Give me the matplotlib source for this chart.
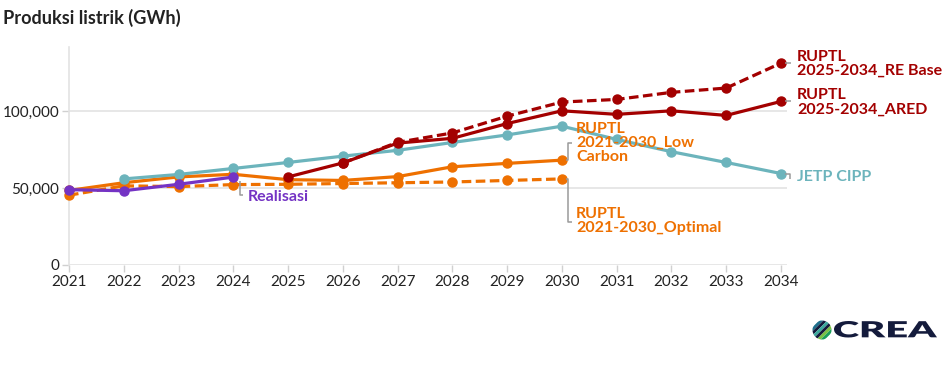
import matplotlib
matplotlib.use("Agg")
import matplotlib.pyplot as plt
from matplotlib.patches import Circle, Polygon, PathPatch
from matplotlib.lines import Line2D
from matplotlib.textpath import TextPath
from matplotlib.font_manager import FontProperties
from matplotlib.transforms import Affine2D

# ---------------- data ----------------
realisasi_years = [2021, 2022, 2023, 2024]
realisasi = [49000, 48300, 52500, 57200]

jetp_years = list(range(2022, 2035))
jetp = [56000, 58900, 62800, 66700, 70800, 74600, 79700, 84600, 90300,
        81700, 73700, 66700, 59500]

ruptl21_years = list(range(2021, 2031))
low_carbon = [48500, 53500, 57300, 59000, 55500, 55000, 57500, 63900, 66100, 68200]
optimal = [45400, 51500, 51000, 52300, 52500, 53000, 53500, 54000, 55000, 56000]

ared_years = list(range(2025, 2035))
ared = [57300, 66400, 79300, 82400, 92000, 100300, 98000, 100300, 97300, 106400]

re_base_years = list(range(2026, 2035))
re_base = [66400, 79800, 85900, 96800, 106000, 107700, 112300, 115100, 131300]

x_ticks = list(range(2021, 2035))
y_ticks = [0, 50000, 100000]
y_tick_labels = ["0", "50,000", "100,000"]

title = "Produksi listrik (GWh)"

# ---------------- style ----------------
C_RED = "#A30000"
C_ORANGE = "#EE7000"
C_TEAL = "#6CB4BC"
C_PURPLE = "#7433C4"
C_GRID = "#E3E3E3"
C_LEAD = "#9A9A9A"
FONT = ["Lato", "DejaVu Sans"]
plt.rcParams["font.family"] = FONT

W, H = 951, 383
fig = plt.figure(figsize=(W / 100, H / 100), dpi=100)
fig.patch.set_facecolor("white")

ax = fig.add_axes([69 / W, 1 - 265 / H, (787 - 69) / W, (265 - 46.7) / H])
ax.set_xlim(2021, 2034.11)
ax.set_ylim(0, 142000)

for s in ["top", "right", "bottom"]:
    ax.spines[s].set_visible(False)
ax.spines["left"].set_color(C_GRID)
ax.spines["left"].set_linewidth(1.2)

ax.set_yticks(y_ticks)
ax.set_yticklabels(y_tick_labels)
ax.set_xticks(x_ticks)
ax.set_xticklabels([str(y) for y in x_ticks])
ax.yaxis.grid(True, color=C_GRID, linewidth=1.2)
ax.set_axisbelow(True)
ax.tick_params(axis="both", length=5, width=1, color="#D0D0D0",
               labelsize=11, labelcolor="#222222")
ax.tick_params(axis="x", pad=2)
ax.tick_params(axis="y", pad=2)

LW = 2.3
MS = 6.5
dash = (3, 1.4)

ax.plot(ruptl21_years, optimal, color=C_ORANGE, lw=LW, marker="o", ms=MS,
        dashes=dash, clip_on=False, zorder=3)
ax.plot(ruptl21_years, low_carbon, color=C_ORANGE, lw=LW, marker="o", ms=MS,
        clip_on=False, zorder=4)
ax.plot(jetp_years, jetp, color=C_TEAL, lw=LW, marker="o", ms=MS,
        clip_on=False, zorder=5)
ax.plot(ared_years, ared, color=C_RED, lw=LW, marker="o", ms=MS,
        clip_on=False, zorder=6)
ax.plot(re_base_years, re_base, color=C_RED, lw=LW, marker="o", ms=MS,
        dashes=dash, clip_on=False, zorder=6)
ax.plot(realisasi_years, realisasi, color=C_PURPLE, lw=LW, marker="o", ms=MS,
        clip_on=False, zorder=7)

# ---------------- annotations (pixel offsets from data points) ----------------
fig.canvas.draw()
inv = fig.transFigure.inverted()


def px(xd, yd):
    return ax.transData.transform((xd, yd))


def fig_line(points):
    pts = [inv.transform(p) for p in points]
    fig.add_artist(Line2D([p[0] for p in pts], [p[1] for p in pts],
                          color=C_LEAD, lw=1.1, solid_capstyle="butt"))


def fig_label(xp, yp, text, color, size=11.5):
    xf, yf = inv.transform((xp, yp))
    fig.text(xf, yf, text, color=color, fontsize=size, fontweight="bold",
             ha="left", va="center", linespacing=1.0)


# Realisasi
px0 = px(realisasi_years[-1], realisasi[-1])
fig_line([(px0[0] + 7, px0[1] - 4), (px0[0] + 7, px0[1] - 18), (px0[0] + 10, px0[1] - 18)])
fig_label(px0[0] + 14, px0[1] - 20, "Realisasi", C_PURPLE)

# Low carbon
p = px(ruptl21_years[-1], low_carbon[-1])
fig_line([(p[0] + 4, p[1]), (p[0] + 6, p[1]), (p[0] + 6, p[1] + 17), (p[0] + 10, p[1] + 17)])
fig_label(p[0] + 14, p[1] + 17, "RUPTL\n2021-2030_Low\nCarbon", C_ORANGE)

# Optimal
p = px(ruptl21_years[-1], optimal[-1])
fig_line([(p[0] + 4, p[1]), (p[0] + 6, p[1]), (p[0] + 6, p[1] - 43), (p[0] + 10, p[1] - 43)])
fig_label(p[0] + 14, p[1] - 42, "RUPTL\n2021-2030_Optimal", C_ORANGE)

# Right-hand labels
p = px(re_base_years[-1], re_base[-1])
fig_line([(p[0] + 4, p[1]), (p[0] + 10, p[1])])
fig_label(p[0] + 16, p[1] - 1, "RUPTL\n2025-2034_RE Base", C_RED)

p = px(ared_years[-1], ared[-1])
fig_line([(p[0] + 4, p[1]), (p[0] + 10, p[1])])
fig_label(p[0] + 16, p[1] - 1, "RUPTL\n2025-2034_ARED", C_RED)

p = px(jetp_years[-1], jetp[-1])
fig_line([(p[0] + 4, p[1]), (p[0] + 9, p[1]), (p[0] + 9, p[1] - 5)])
fig_label(p[0] + 16, p[1] - 3, "JETP CIPP", C_TEAL)

# Title
fig.text(3 / W, 1 - 18 / H, title, fontsize=13.1, fontweight="bold",
         color="#222222", ha="left", va="center")

# ---------------- logo (pixel-space axes) ----------------
lax = fig.add_axes([0, 0, 1, 1], zorder=-1)
lax.set_xlim(0, W)
lax.set_ylim(H, 0)
lax.axis("off")

# word mark, stretched into a box of about 103 x 16 px
tp = TextPath((0, 0), "CREA", size=100,
              prop=FontProperties(family="Lato", weight="heavy"))
bb = tp.get_extents()
sx = 103 / bb.width
sy = 16.5 / bb.height
tr = (Affine2D().translate(-bb.x0, -bb.y0).scale(sx, -sy)
      .translate(834, 337.5))
lax.add_patch(PathPatch(tr.transform_path(tp), facecolor="#141B3C",
                        edgecolor="none"))

# icon
cx, cy, r = 822, 330, 9.5
clip = Circle((cx, cy), r, transform=lax.transData)
band_cols = ["#1F6F8B", "#141B3C", "#3BA99C", "#141B3C", "#7AC143", "#1B9E5A"]
n = len(band_cols)
span = 2.6 * r
for i, c in enumerate(band_cols):
    o0 = -span / 2 + i * span / n
    o1 = o0 + span / n
    poly = Polygon([(cx + o0 - 2 * r, cy + 2 * r), (cx + o1 - 2 * r, cy + 2 * r),
                    (cx + o1 + 2 * r, cy - 2 * r), (cx + o0 + 2 * r, cy - 2 * r)],
                   closed=True, facecolor=c, edgecolor="none")
    lax.add_patch(poly)
    poly.set_clip_path(clip)

fig.savefig("out.png", dpi=100)
